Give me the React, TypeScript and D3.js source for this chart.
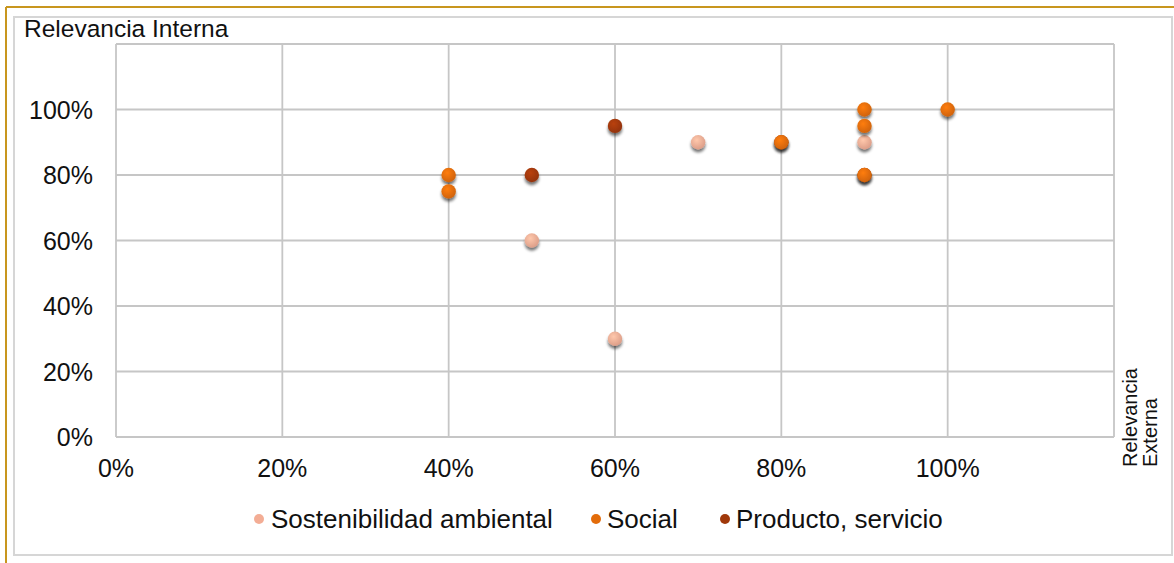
import React from "react";
import * as d3 from "d3";

const xTicks = [0, 0.2, 0.4, 0.6, 0.8, 1.0];
const yTicks = [0, 0.2, 0.4, 0.6, 0.8, 1.0];
const seriesNames = ["Sostenibilidad ambiental", "Social", "Producto, servicio"];
const seriesColors = ["#f3ad95", "#e36c0a", "#a0380a"];
const ambientalX = [0.5, 0.6, 0.7, 0.9];
const ambientalY = [0.6, 0.3, 0.9, 0.9];
const productoX = [0.6, 0.5, 0.8, 0.9];
const productoY = [0.95, 0.8, 0.9, 0.8];
const socialX = [0.4, 0.4, 0.8, 0.9, 0.9, 0.9, 1.0];
const socialY = [0.8, 0.75, 0.9, 1.0, 0.95, 0.8, 1.0];

const W = 1174;
const H = 563;
const plot = { left: 116, right: 1114, top: 44, bottom: 437 };

export default function App() {
  const x = d3.scaleLinear().domain([0, 1.2]).range([plot.left, plot.right]);
  const y = d3.scaleLinear().domain([0, 1.2]).range([plot.bottom, plot.top]);
  const fmt = d3.format(".0%");
  const series = [
    { name: seriesNames[0], color: seriesColors[0], xs: ambientalX, ys: ambientalY },
    { name: seriesNames[2], color: seriesColors[2], xs: productoX, ys: productoY },
    { name: seriesNames[1], color: seriesColors[1], xs: socialX, ys: socialY },
  ];
  const gridX = d3.range(0, 1.2001, 0.2);
  const font = "Arial, 'Liberation Sans', sans-serif";
  const legendItems = [
    { name: seriesNames[0], color: seriesColors[0], mx: 259, tx: 271 },
    { name: seriesNames[1], color: seriesColors[1], mx: 596, tx: 607 },
    { name: seriesNames[2], color: seriesColors[2], mx: 725, tx: 736 },
  ];
  return (
    <svg width={W} height={H} style={{ position: "absolute", left: 0, top: 0, background: "#fff" }} fontFamily={font}>
      <defs>
        <filter id="sh" x="-50%" y="-50%" width="200%" height="220%">
          <feGaussianBlur in="SourceAlpha" stdDeviation="1.6" />
          <feOffset dx="0" dy="2.5" result="b" />
          <feComponentTransfer><feFuncA type="linear" slope="0.55" /></feComponentTransfer>
          <feMerge><feMergeNode /><feMergeNode in="SourceGraphic" /></feMerge>
        </filter>
        {seriesColors.map((c, i) => (
          <radialGradient key={i} id={"g" + i} cx="0.4" cy="0.35" r="0.7">
            <stop offset="0" stopColor={d3.color(c)!.brighter(0.4).formatHex()} />
            <stop offset="1" stopColor={d3.color(c)!.darker(0.3).formatHex()} />
          </radialGradient>
        ))}
      </defs>
      <rect x={0} y={0} width={W} height={H} fill="#fff" />
      <line x1={6} y1={7} x2={W} y2={7} stroke="#c8961e" strokeWidth={2} />
      <line x1={6} y1={7} x2={6} y2={H} stroke="#c8961e" strokeWidth={2} />
      <rect x={14} y={17} width={1158} height={538} fill="#fff" stroke="#d6d6d6" strokeWidth={2} />
      {gridX.map((v, i) => (
        <line key={"gx" + i} x1={x(v)} x2={x(v)} y1={plot.top} y2={plot.bottom} stroke="#c6c6c6" strokeWidth={1.8} />
      ))}
      {gridX.map((v, i) => (
        <line key={"gy" + i} x1={plot.left} x2={plot.right} y1={y(v)} y2={y(v)} stroke="#c6c6c6" strokeWidth={1.8} />
      ))}
      <text x={24} y={37} fontSize={24.5} fill="#111">Relevancia Interna</text>
      {yTicks.map((v, i) => (
        <text key={"yt" + i} x={93} y={y(v) + 9} fontSize={25} textAnchor="end" fill="#111">{fmt(v)}</text>
      ))}
      {xTicks.map((v, i) => (
        <text key={"xt" + i} x={x(v)} y={477} fontSize={25} textAnchor="middle" fill="#111">{fmt(v)}</text>
      ))}
      <g transform="translate(1137,467) rotate(-90)">
        <text x={0} y={0} fontSize={20} fill="#111">Relevancia</text>
        <text x={0} y={20} fontSize={20} fill="#111">Externa</text>
      </g>
      {series.map((s, si) => (
        <g key={si} filter="url(#sh)">
          {s.xs.map((xv, i) => (
            <circle key={i} cx={x(xv)} cy={y(s.ys[i])} r={7.2} fill={`url(#g${seriesColors.indexOf(s.color)})`} />
          ))}
        </g>
      ))}
      {legendItems.map((l, i) => (
        <g key={"lg" + i}>
          <circle cx={l.mx} cy={519} r={5} fill={l.color} />
          <text x={l.tx} y={528} fontSize={26} fill="#111">{l.name}</text>
        </g>
      ))}
    </svg>
  );
}
